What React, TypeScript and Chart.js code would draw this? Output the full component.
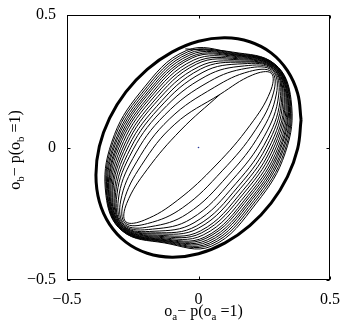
import { useEffect, useRef } from "react";
import { Chart, registerables } from "chart.js";

Chart.register(...registerables);

const xTicks = [-0.5, 0, 0.5];
const yTicks = [-0.5, 0, 0.5];

// thick outer ellipse
const ellipseX = [0.39, 0.377, 0.338, 0.276, 0.195, 0.101, 0, -0.101, -0.195, -0.276, -0.338, -0.377, -0.39, -0.377, -0.338, -0.276, -0.195, -0.101, 0, 0.101, 0.195, 0.276, 0.338, 0.377, 0.39];
const ellipseY = [0.104, 0.204, 0.29, 0.357, 0.399, 0.414, 0.401, 0.36, 0.295, 0.21, 0.111, 0.004, -0.104, -0.204, -0.29, -0.357, -0.399, -0.414, -0.401, -0.36, -0.295, -0.21, -0.111, -0.004, 0.104];

// thin trajectory loops (outer to inner)
const loopsX = [
  [-0.05, 0.13, 0.29, 0.352, 0.33, 0.22, 0.05, -0.13, -0.29, -0.352, -0.33, -0.22],
  [-0.046, 0.133, 0.29, 0.349, 0.326, 0.215, 0.046, -0.133, -0.29, -0.349, -0.326, -0.215],
  [-0.041, 0.135, 0.289, 0.347, 0.321, 0.21, 0.041, -0.135, -0.289, -0.347, -0.321, -0.21],
  [-0.037, 0.138, 0.289, 0.344, 0.317, 0.204, 0.037, -0.138, -0.289, -0.344, -0.317, -0.204],
  [-0.033, 0.14, 0.288, 0.341, 0.312, 0.2, 0.033, -0.14, -0.288, -0.341, -0.312, -0.2],
  [-0.028, 0.143, 0.288, 0.339, 0.308, 0.194, 0.028, -0.143, -0.288, -0.339, -0.308, -0.194],
  [-0.024, 0.145, 0.288, 0.336, 0.303, 0.189, 0.024, -0.145, -0.288, -0.336, -0.303, -0.189],
  [-0.018, 0.149, 0.287, 0.333, 0.297, 0.183, 0.018, -0.149, -0.287, -0.333, -0.297, -0.183],
  [-0.012, 0.152, 0.286, 0.329, 0.291, 0.176, 0.012, -0.152, -0.286, -0.329, -0.291, -0.176],
  [-0.007, 0.155, 0.286, 0.326, 0.285, 0.169, 0.007, -0.155, -0.286, -0.326, -0.285, -0.169],
  [0.001, 0.159, 0.285, 0.321, 0.278, 0.16, -0.001, -0.159, -0.285, -0.321, -0.278, -0.16],
  [0.008, 0.164, 0.284, 0.317, 0.27, 0.152, -0.008, -0.164, -0.284, -0.317, -0.27, -0.152],
  [0.017, 0.169, 0.284, 0.312, 0.262, 0.142, -0.017, -0.169, -0.284, -0.312, -0.262, -0.142],
  [0.028, 0.175, 0.282, 0.305, 0.25, 0.128, -0.028, -0.175, -0.282, -0.305, -0.25, -0.128],
  [0.043, 0.184, 0.281, 0.296, 0.235, 0.111, -0.043, -0.184, -0.281, -0.296, -0.235, -0.111],
  [0.06, 0.194, 0.279, 0.285, 0.217, 0.09, -0.06, -0.194, -0.279, -0.285, -0.217, -0.09],
  [0.081, 0.206, 0.277, 0.273, 0.196, 0.067, -0.081, -0.206, -0.277, -0.273, -0.196, -0.067],
];
const loopsY = [
  [0.372, 0.36, 0.315, 0.18, -0.02, -0.21, -0.372, -0.36, -0.315, -0.18, 0.02, 0.21],
  [0.366, 0.357, 0.314, 0.181, -0.017, -0.205, -0.366, -0.357, -0.314, -0.181, 0.017, 0.205],
  [0.361, 0.354, 0.313, 0.182, -0.013, -0.2, -0.361, -0.354, -0.313, -0.182, 0.013, 0.2],
  [0.355, 0.351, 0.312, 0.183, -0.01, -0.196, -0.355, -0.351, -0.312, -0.183, 0.01, 0.196],
  [0.349, 0.349, 0.31, 0.184, -0.006, -0.191, -0.349, -0.349, -0.31, -0.184, 0.006, 0.191],
  [0.343, 0.346, 0.309, 0.185, -0.003, -0.186, -0.343, -0.346, -0.309, -0.185, 0.003, 0.186],
  [0.338, 0.343, 0.308, 0.186, 0.001, -0.181, -0.338, -0.343, -0.308, -0.186, -0.001, 0.181],
  [0.33, 0.339, 0.306, 0.188, 0.005, -0.175, -0.33, -0.339, -0.306, -0.188, -0.005, 0.175],
  [0.322, 0.335, 0.305, 0.189, 0.01, -0.168, -0.322, -0.335, -0.305, -0.189, -0.01, 0.168],
  [0.315, 0.331, 0.303, 0.19, 0.015, -0.162, -0.315, -0.331, -0.303, -0.19, -0.015, 0.162],
  [0.305, 0.326, 0.301, 0.192, 0.02, -0.154, -0.305, -0.326, -0.301, -0.192, -0.02, 0.154],
  [0.296, 0.322, 0.299, 0.194, 0.026, -0.146, -0.296, -0.322, -0.299, -0.194, -0.026, 0.146],
  [0.284, 0.316, 0.297, 0.196, 0.033, -0.136, -0.284, -0.316, -0.297, -0.196, -0.033, 0.136],
  [0.269, 0.308, 0.294, 0.198, 0.042, -0.123, -0.269, -0.308, -0.294, -0.198, -0.042, 0.123],
  [0.25, 0.299, 0.29, 0.202, 0.054, -0.107, -0.25, -0.299, -0.29, -0.202, -0.054, 0.107],
  [0.227, 0.287, 0.285, 0.206, 0.067, -0.088, -0.227, -0.287, -0.285, -0.206, -0.067, 0.088],
  [0.2, 0.274, 0.28, 0.211, 0.084, -0.066, -0.2, -0.274, -0.28, -0.211, -0.084, 0.066],
];

const centerX = [0];
const centerY = [0];

const FONT = "'Liberation Serif', 'DejaVu Serif', serif";

type Part = { t: string; sub?: boolean };
const xTitle: Part[] = [{ t: "o" }, { t: "a", sub: true }, { t: "\u2212 p(o" }, { t: "a", sub: true }, { t: " =1)" }];
const yTitle: Part[] = [{ t: "o" }, { t: "b", sub: true }, { t: "\u2212 p(o" }, { t: "b", sub: true }, { t: " =1)" }];

function drawParts(ctx: CanvasRenderingContext2D, parts: Part[], cx: number, baseline: number, size: number) {
  const subSize = Math.round(size * 0.7);
  const widths = parts.map((p) => {
    ctx.font = `${p.sub ? subSize : size}px ${FONT}`;
    return ctx.measureText(p.t).width;
  });
  const total = widths.reduce((a, b) => a + b, 0);
  let x = cx - total / 2;
  ctx.textAlign = "left";
  ctx.textBaseline = "alphabetic";
  parts.forEach((p, i) => {
    ctx.font = `${p.sub ? subSize : size}px ${FONT}`;
    ctx.fillText(p.t, x, baseline + (p.sub ? 4 : 0));
    x += widths[i];
  });
}

const framePlugin = {
  id: "frame",
  afterDraw(chart: any) {
    const { ctx, chartArea } = chart;
    const { left, right, top, bottom } = chartArea;
    const xs = chart.scales.x;
    const ys = chart.scales.y;
    ctx.save();
    ctx.strokeStyle = "#000";
    ctx.lineWidth = 1;
    const L = Math.round(left) + 0.5;
    const R = Math.round(right) - 0.5;
    const T = Math.round(top) + 0.5;
    const B = Math.round(bottom) - 0.5;
    ctx.strokeRect(L, T, R - L, B - T);
    ctx.beginPath();
    xTicks.forEach((v) => {
      const px = Math.round(xs.getPixelForValue(v)) + 0.5;
      ctx.moveTo(px, B);
      ctx.lineTo(px, B - 3);
      ctx.moveTo(px, T);
      ctx.lineTo(px, T + 3);
    });
    yTicks.forEach((v) => {
      const py = Math.round(ys.getPixelForValue(v)) + 0.5;
      ctx.moveTo(L, py);
      ctx.lineTo(L + 3, py);
      ctx.moveTo(R, py);
      ctx.lineTo(R - 3, py);
    });
    ctx.stroke();
    ctx.fillStyle = "#000";
    drawParts(ctx, xTitle, 203.5, 316, 16);
    ctx.translate(20, 150);
    ctx.rotate(-Math.PI / 2);
    drawParts(ctx, yTitle, 0, 0, 16);
    ctx.restore();
  },
};

const fmt = (v: number) => (v === 0 ? "0" : v < 0 ? "\u2212" + String(Math.abs(v)) : String(v));

export default function App() {
  const ref = useRef<HTMLCanvasElement | null>(null);
  useEffect(() => {
    if (!ref.current) return;
    const ellipse = ellipseX.map((x, i) => ({ x, y: ellipseY[i] }));
    const traj: { x: number; y: number }[] = [];
    loopsX.forEach((lx, k) => {
      lx.forEach((x, i) => traj.push({ x, y: loopsY[k][i] }));
    });
    const last = loopsX.length - 1;
    traj.push({ x: loopsX[last][0], y: loopsY[last][0] });
    const center = centerX.map((x, i) => ({ x, y: centerY[i] }));

    const chart = new Chart(ref.current, {
      type: "scatter",
      data: {
        datasets: [
          {
            data: traj,
            showLine: true,
            borderColor: "#000",
            borderWidth: 1,
            pointRadius: 0,
            tension: 0.4,
            fill: false,
          },
          {
            data: ellipse,
            showLine: true,
            borderColor: "#000",
            borderWidth: 3,
            pointRadius: 0,
            tension: 0.4,
            fill: false,
          },
          {
            data: center,
            showLine: false,
            pointRadius: 0.8,
            pointBorderWidth: 0,
            backgroundColor: "#2a3a9a",
          },
        ],
      },
      options: {
        responsive: false,
        animation: false,
        devicePixelRatio: 1,
        layout: { padding: { top: 15, right: 10, left: 0, bottom: 0 } },
        plugins: { legend: { display: false }, tooltip: { enabled: false } },
        scales: {
          x: {
            type: "linear",
            min: -0.5,
            max: 0.5,
            grid: { display: false },
            border: { display: false },
            afterBuildTicks: (s: any) => {
              s.ticks = xTicks.map((v) => ({ value: v }));
            },
            afterFit: (s: any) => {
              s.height = 44;
            },
            ticks: {
              callback: (v: any) => fmt(Number(v)),
              font: { family: FONT, size: 16 },
              color: "#000",
              padding: 2,
              maxRotation: 0,
              autoSkip: false,
            },
          },
          y: {
            type: "linear",
            min: -0.5,
            max: 0.5,
            grid: { display: false },
            border: { display: false },
            afterBuildTicks: (s: any) => {
              s.ticks = yTicks.map((v) => ({ value: v }));
            },
            afterFit: (s: any) => {
              s.width = 67;
            },
            ticks: {
              callback: (v: any) => fmt(Number(v)),
              font: { family: FONT, size: 16 },
              color: "#000",
              padding: 3,
              autoSkip: false,
            },
          },
        },
      },
      plugins: [framePlugin],
    });
    return () => chart.destroy();
  }, []);

  return (
    <div style={{ position: "fixed", left: 0, top: 0, width: 342, height: 324, background: "#fff" }}>
      <canvas ref={ref} width={342} height={324} />
    </div>
  );
}
